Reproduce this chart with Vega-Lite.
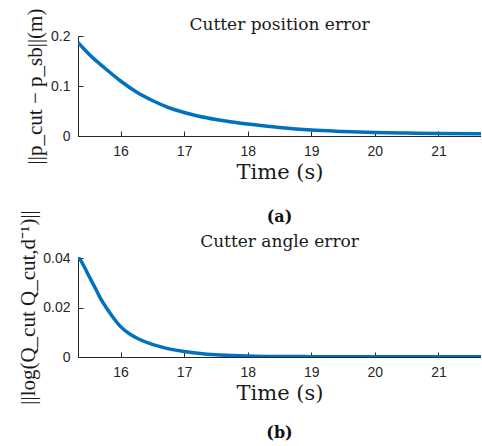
{
  "$schema": "https://vega.github.io/schema/vega-lite/v6.json",
  "background": "white",
  "padding": {"left": 17, "top": 8, "right": 0, "bottom": 0},
  "config": {
    "view": {"stroke": null},
    "axis": {
      "grid": false,
      "domainColor": "#262626",
      "tickColor": "#262626",
      "labelColor": "#262626",
      "labelFont": "Liberation Sans",
      "labelFontSize": 14,
      "tickSize": -5,
      "titleFont": "DejaVu Serif",
      "titleFontWeight": "normal",
      "titleColor": "#1a1a1a"
    },
    "axisX": {"labelPadding": 13},
    "axisY": {"labelPadding": 13}
  },
  "datasets": {
    "pos": [
      {"t": 15.33, "err": 0.187},
      {"t": 15.5, "err": 0.164},
      {"t": 15.75, "err": 0.136},
      {"t": 16.0, "err": 0.110},
      {"t": 16.25, "err": 0.088},
      {"t": 16.5, "err": 0.071},
      {"t": 16.75, "err": 0.057},
      {"t": 17.0, "err": 0.047},
      {"t": 17.25, "err": 0.039},
      {"t": 17.5, "err": 0.033},
      {"t": 17.75, "err": 0.028},
      {"t": 18.0, "err": 0.024},
      {"t": 18.5, "err": 0.017},
      {"t": 19.0, "err": 0.012},
      {"t": 19.5, "err": 0.0092},
      {"t": 20.0, "err": 0.0070},
      {"t": 20.5, "err": 0.0058},
      {"t": 21.0, "err": 0.0049},
      {"t": 21.67, "err": 0.0043}
    ],
    "ang": [
      {"t": 15.33, "err": 0.0404},
      {"t": 15.36, "err": 0.0396},
      {"t": 15.4, "err": 0.0379},
      {"t": 15.5, "err": 0.0329},
      {"t": 15.6, "err": 0.0280},
      {"t": 15.7, "err": 0.0230},
      {"t": 15.8, "err": 0.0190},
      {"t": 15.9, "err": 0.0154},
      {"t": 16.0, "err": 0.0123},
      {"t": 16.15, "err": 0.0092},
      {"t": 16.3, "err": 0.0071},
      {"t": 16.5, "err": 0.0051},
      {"t": 16.65, "err": 0.0040},
      {"t": 16.8, "err": 0.0031},
      {"t": 17.0, "err": 0.0022},
      {"t": 17.25, "err": 0.0014},
      {"t": 17.5, "err": 0.0009},
      {"t": 17.75, "err": 0.0006},
      {"t": 18.0, "err": 0.0004},
      {"t": 18.5, "err": 0.0002},
      {"t": 19.0, "err": 0.00015},
      {"t": 20.0, "err": 0.0001},
      {"t": 21.0, "err": 0.0001},
      {"t": 21.67, "err": 0.0001}
    ]
  },
  "title": {
    "text": "(b)",
    "orient": "bottom",
    "anchor": "middle",
    "frame": "group",
    "font": "DejaVu Serif",
    "fontWeight": "bold",
    "fontSize": 16,
    "color": "#111111",
    "offset": 21
  },
  "spacing": 26,
  "vconcat": [
    {
      "width": 403,
      "height": 100,
      "title": {
        "text": "Cutter position error",
        "font": "DejaVu Serif",
        "fontSize": 17,
        "fontWeight": "normal",
        "color": "#1a1a1a",
        "anchor": "middle",
        "frame": "group",
        "offset": -26
      },
      "data": {"name": "pos"},
      "mark": {"type": "line", "color": "#0072BD", "strokeWidth": 3.5, "clip": true, "interpolate": "monotone"},
      "encoding": {
        "x": {
          "field": "t", "type": "quantitative",
          "scale": {"domain": [15.33, 21.67], "nice": false, "zero": false},
          "axis": {"values": [16, 17, 18, 19, 20, 21], "format": "d", "title": "Time (s)", "titleFontSize": 21, "titlePadding": 3}
        },
        "y": {
          "field": "err", "type": "quantitative",
          "scale": {"domain": [0, 0.2], "nice": false},
          "axis": {"values": [0, 0.1, 0.2], "format": "~g", "title": "||p_cut − p_sb||(m)", "titleFont": "Liberation Serif", "titleFontSize": 21, "titlePadding": 5}
        }
      }
    },
    {
      "width": 403,
      "height": 100,
      "title": {
        "text": "(a)",
        "subtitle": "Cutter angle error",
        "font": "DejaVu Serif",
        "fontSize": 16,
        "fontWeight": "bold",
        "color": "#111111",
        "subtitleFont": "DejaVu Serif",
        "subtitleFontSize": 17,
        "subtitleColor": "#1a1a1a",
        "subtitlePadding": 9,
        "anchor": "middle",
        "frame": "group",
        "offset": -40
      },
      "data": {"name": "ang"},
      "mark": {"type": "line", "color": "#0072BD", "strokeWidth": 3.5, "clip": true, "interpolate": "monotone"},
      "encoding": {
        "x": {
          "field": "t", "type": "quantitative",
          "scale": {"domain": [15.33, 21.67], "nice": false, "zero": false},
          "axis": {"values": [16, 17, 18, 19, 20, 21], "format": "d", "title": "Time (s)", "titleFontSize": 21, "titlePadding": 3}
        },
        "y": {
          "field": "err", "type": "quantitative",
          "scale": {"domain": [0, 0.0405], "nice": false},
          "axis": {"values": [0, 0.02, 0.04], "format": "~g", "title": "||log(Q_cut Q_cut,d⁻¹)||", "titleFont": "Liberation Serif", "titleFontSize": 21, "titlePadding": 4}
        }
      }
    }
  ]
}
